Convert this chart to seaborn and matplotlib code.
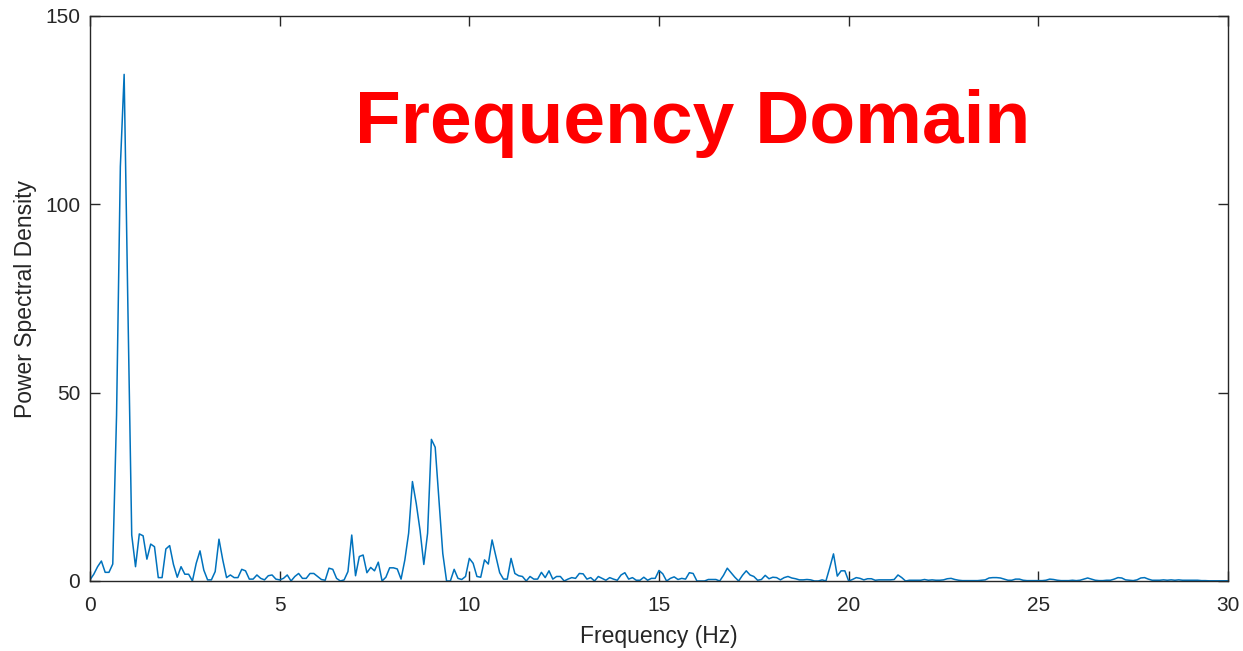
import numpy as np
import pandas as pd
import seaborn as sns
import matplotlib
matplotlib.use("Agg")
import matplotlib.pyplot as plt

# ---- data ----
freq_step = 0.1  # Hz between spectral bins
psd_0_1hz = [0.3, 1.8, 3.8, 5.3, 2.3, 2.3, 4.5, 44.0, 110.0, 134.5, 72.0, 12.2]
psd_1_5hz = [3.8, 12.5, 12.0, 5.8, 9.8, 9.1, 0.9, 0.9, 8.5, 9.4, 4.4, 1.0, 3.8,
             1.8, 1.8, 0.0, 4.7, 8.0, 2.9, 0.3, 0.3, 2.5, 11.1, 5.6, 0.9, 1.6,
             0.9, 0.9, 3.1, 2.7, 0.5, 0.5, 1.6, 0.7, 0.3, 1.4, 1.6, 0.5, 0.3]
psd_5_10hz = [0.7, 1.6, 0.0, 1.2, 2.0, 0.7, 0.7, 2.0, 2.0, 1.2, 0.4, 0.2, 3.4,
              3.1, 0.7, 0.0, 0.3, 2.5, 12.2, 1.4, 6.5, 6.9, 2.2, 3.6, 2.7, 5.0,
              0.0, 1.0, 3.5, 3.5, 3.2, 0.5, 5.6, 12.7, 26.4, 20.6, 13.5, 4.4,
              12.7, 37.6, 35.5, 21.5, 7.3, 0.0, 0.0, 3.1, 0.7, 0.4, 1.2, 6.0,
              4.7, 1.2]
psd_10_13hz = [1.0, 5.6, 4.5, 10.9, 6.5, 2.2, 0.5, 0.5, 6.0, 2.0, 1.4, 1.2, 0.0,
               1.2, 0.5, 0.5, 2.3, 0.9, 2.7, 0.5, 1.2, 1.2, 0.0, 0.5, 0.9, 0.7,
               2.0]
psd_13_18hz = [1.9, 0.5, 0.9, 0.0, 1.2, 0.7, 0.2, 0.9, 0.5, 0.2, 1.6, 2.2, 0.5,
               0.9, 0.2, 0.2, 1.0, 0.2, 0.7, 0.7, 2.8, 1.9, 0.0, 0.7, 1.1, 0.4,
               0.7, 0.5, 2.2, 2.0, 0.0, 0.0, 0.0, 0.4, 0.4, 0.4, 0.0, 1.5, 3.4,
               2.2, 1.0, 0.0, 1.5, 2.7, 1.6, 1.2, 0.2]
psd_18_22hz = [0.4, 1.5, 0.6, 1.0, 0.9, 0.3, 0.9, 1.2, 0.8, 0.6, 0.3, 0.3, 0.4,
               0.3, 0.0, 0.0, 0.3, 0.0, 3.5, 7.2, 1.3, 2.7, 2.7, 0.0, 0.4, 0.9,
               0.7, 0.3, 0.6, 0.6, 0.2, 0.3, 0.3, 0.3, 0.3, 0.4, 1.6, 0.9, 0.0,
               0.2, 0.2, 0.2, 0.2, 0.4, 0.2, 0.3, 0.2, 0.2]
psd_22_30hz = [0.3, 0.6, 0.7, 0.4, 0.2, 0.1, 0.1, 0.1, 0.1, 0.1, 0.2, 0.3, 0.8,
               0.9, 0.9, 0.8, 0.5, 0.2, 0.2, 0.5, 0.5, 0.2, 0.1, 0.1, 0.1, 0.1,
               0.1, 0.2, 0.5, 0.4, 0.2, 0.1, 0.1, 0.1, 0.2, 0.1, 0.2, 0.5, 0.8,
               0.5, 0.2, 0.1, 0.1, 0.2, 0.2, 0.5, 0.9, 0.8, 0.3, 0.2, 0.1, 0.3,
               0.8, 0.9, 0.5, 0.2, 0.2, 0.2, 0.3, 0.2, 0.3, 0.2, 0.3, 0.2, 0.2,
               0.2, 0.2, 0.2, 0.1, 0.1, 0.05, 0.05, 0.05, 0.05, 0.05, 0.05]

x_ticks = [0, 5, 10, 15, 20, 25, 30]
y_ticks = [0, 50, 100, 150]
title_text = "Frequency Domain"
x_label = "Frequency (Hz)"
y_label = "Power Spectral Density"

psd = np.array(psd_0_1hz + psd_1_5hz + psd_5_10hz + psd_10_13hz +
               psd_13_18hz + psd_18_22hz + psd_22_30hz)
freqs = np.arange(len(psd)) * freq_step
df = pd.DataFrame({"freq": freqs, "psd": psd})

# ---- styling ----
sns.set_theme(style="ticks")
plt.rcParams["font.family"] = ["Liberation Sans", "DejaVu Sans"]

fig = plt.figure(figsize=(12.43, 6.51), dpi=100)
ax = fig.add_axes([90 / 1243, 1 - 581 / 651, (1228 - 90) / 1243, (581 - 16) / 651])

sns.lineplot(data=df, x="freq", y="psd", ax=ax, color="#0072BD",
             linewidth=1.1, estimator=None, sort=False)

ax.set_xlim(0, 30)
ax.set_ylim(0, 150)
ax.set_xticks(x_ticks)
ax.set_yticks(y_ticks)
ax.set_xticklabels([str(t) for t in x_ticks])
ax.set_yticklabels([str(t) for t in y_ticks])
ax.tick_params(direction="in", length=7, width=1.0, colors="#262626",
               labelsize=15, top=True, right=True)
ax.tick_params(axis="x", pad=11)
ax.tick_params(axis="y", pad=7)
for sp in ax.spines.values():
    sp.set_visible(True)
    sp.set_color("#262626")
    sp.set_linewidth(1.0)

ax.set_xlabel(x_label, fontsize=16.5, color="#262626", labelpad=7)
ax.set_ylabel(y_label, fontsize=16.5, color="#262626", labelpad=6)

ax.text(15.88, 116.3, title_text, color="#FF0000", fontsize=54,
        fontweight="bold", ha="center", va="baseline")

fig.savefig("out.png", dpi=100)
